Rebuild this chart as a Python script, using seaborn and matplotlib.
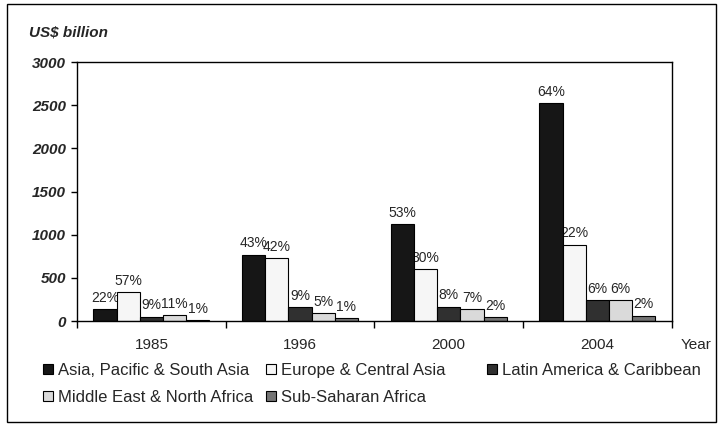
import pandas as pd
import matplotlib.pyplot as plt
import matplotlib.patches as mpatches
import seaborn as sns

# data (US$ billion)
years = ["1985", "1996", "2000", "2004"]
regions = ["Asia, Pacific & South Asia", "Europe & Central Asia",
           "Latin America & Caribbean", "Middle East & North Africa",
           "Sub-Saharan Africa"]
asia = [135, 770, 1120, 2520]
europe = [338, 728, 605, 885]
latam = [52, 165, 168, 240]
mena = [66, 90, 135, 240]
ssa = [10, 30, 50, 62]
shares = {
    "Asia, Pacific & South Asia": ["22%", "43%", "53%", "64%"],
    "Europe & Central Asia": ["57%", "42%", "30%", "22%"],
    "Latin America & Caribbean": ["9%", "9%", "8%", "6%"],
    "Middle East & North Africa": ["11%", "5%", "7%", "6%"],
    "Sub-Saharan Africa": ["1%", "1%", "2%", "2%"],
}

colors = ["#161616", "#f6f6f6", "#303030", "#dadada", "#747474"]

df = pd.DataFrame({
    "Year": years * 5,
    "Region": [r for r in regions for _ in years],
    "Value": asia + europe + latam + mena + ssa,
})

sns.set_style("white")
plt.rcParams["font.family"] = ["Liberation Sans", "DejaVu Sans"]

fig = plt.figure(figsize=(7.2, 4.25), dpi=100)
ax = fig.add_axes([0.107, 0.2447, 0.826, 0.6093])

sns.barplot(data=df, x="Year", y="Value", hue="Region", hue_order=regions,
            palette=colors, saturation=1, width=0.78, errorbar=None,
            edgecolor="black", linewidth=0.8, ax=ax, legend=False, zorder=2)

# percentage labels above each bar
for cont, reg in zip(ax.containers, regions):
    anns = ax.bar_label(cont, labels=shares[reg], padding=3, fontsize=10)
    for a in anns:
        a.set_zorder(1)

ax.set_xlim(-0.5, 3.5)
ax.set_ylim(0, 3000)
ax.set_yticks(range(0, 3001, 500))
ax.set_yticklabels([str(v) for v in range(0, 3001, 500)],
                   fontsize=11, fontweight="bold", fontstyle="italic")
ax.tick_params(axis="y", direction="out", length=4, width=1, color="black", pad=4, left=True)

# x ticks at group boundaries, labels at centres
ax.set_xticks([-0.5, 0.5, 1.5, 2.5, 3.5])
ax.set_xticklabels([])
ax.set_xticks([0, 1, 2, 3], minor=True)
ax.set_xticklabels(years, minor=True, fontsize=11)
ax.tick_params(axis="x", which="major", direction="out", length=5, width=1, color="black", bottom=True)
ax.tick_params(axis="x", which="minor", length=0, pad=12)
ax.set_xlabel("")
ax.set_ylabel("")

for s in ax.spines.values():
    s.set_visible(True)
    s.set_color("black")
    s.set_linewidth(1)

fig.text(29 / 720, 1 - 32 / 425, "US$ billion", fontsize=11, fontweight="bold",
         fontstyle="italic", va="center", ha="left")
fig.text(696 / 720, 1 - 345 / 425, "Year", fontsize=11, va="center", ha="center")

# legend split like the original layout
handles = [mpatches.Patch(facecolor=c, edgecolor="black", linewidth=0.8) for c in colors]
leg_kw = dict(loc="upper left", frameon=False, fontsize=12, handlelength=0.6,
              handleheight=0.6, handletextpad=0.3, labelspacing=0.7,
              borderpad=0, borderaxespad=0)
fig.legend([handles[0], handles[3], handles[1], handles[4]],
           [regions[0], regions[3], regions[1], regions[4]],
           ncol=2, bbox_to_anchor=(43 / 720, 1 - 363 / 425), columnspacing=0.75, **leg_kw)
fig.legend([handles[2]], [regions[2]], bbox_to_anchor=(487 / 720, 1 - 363 / 425), **leg_kw)

# outer chart border
fig.patches.append(mpatches.Rectangle((7 / 720, 3 / 425), 709 / 720, 418 / 425,
                                      transform=fig.transFigure, fill=False,
                                      edgecolor="black", linewidth=1))

fig.savefig("out.png", dpi=100)
